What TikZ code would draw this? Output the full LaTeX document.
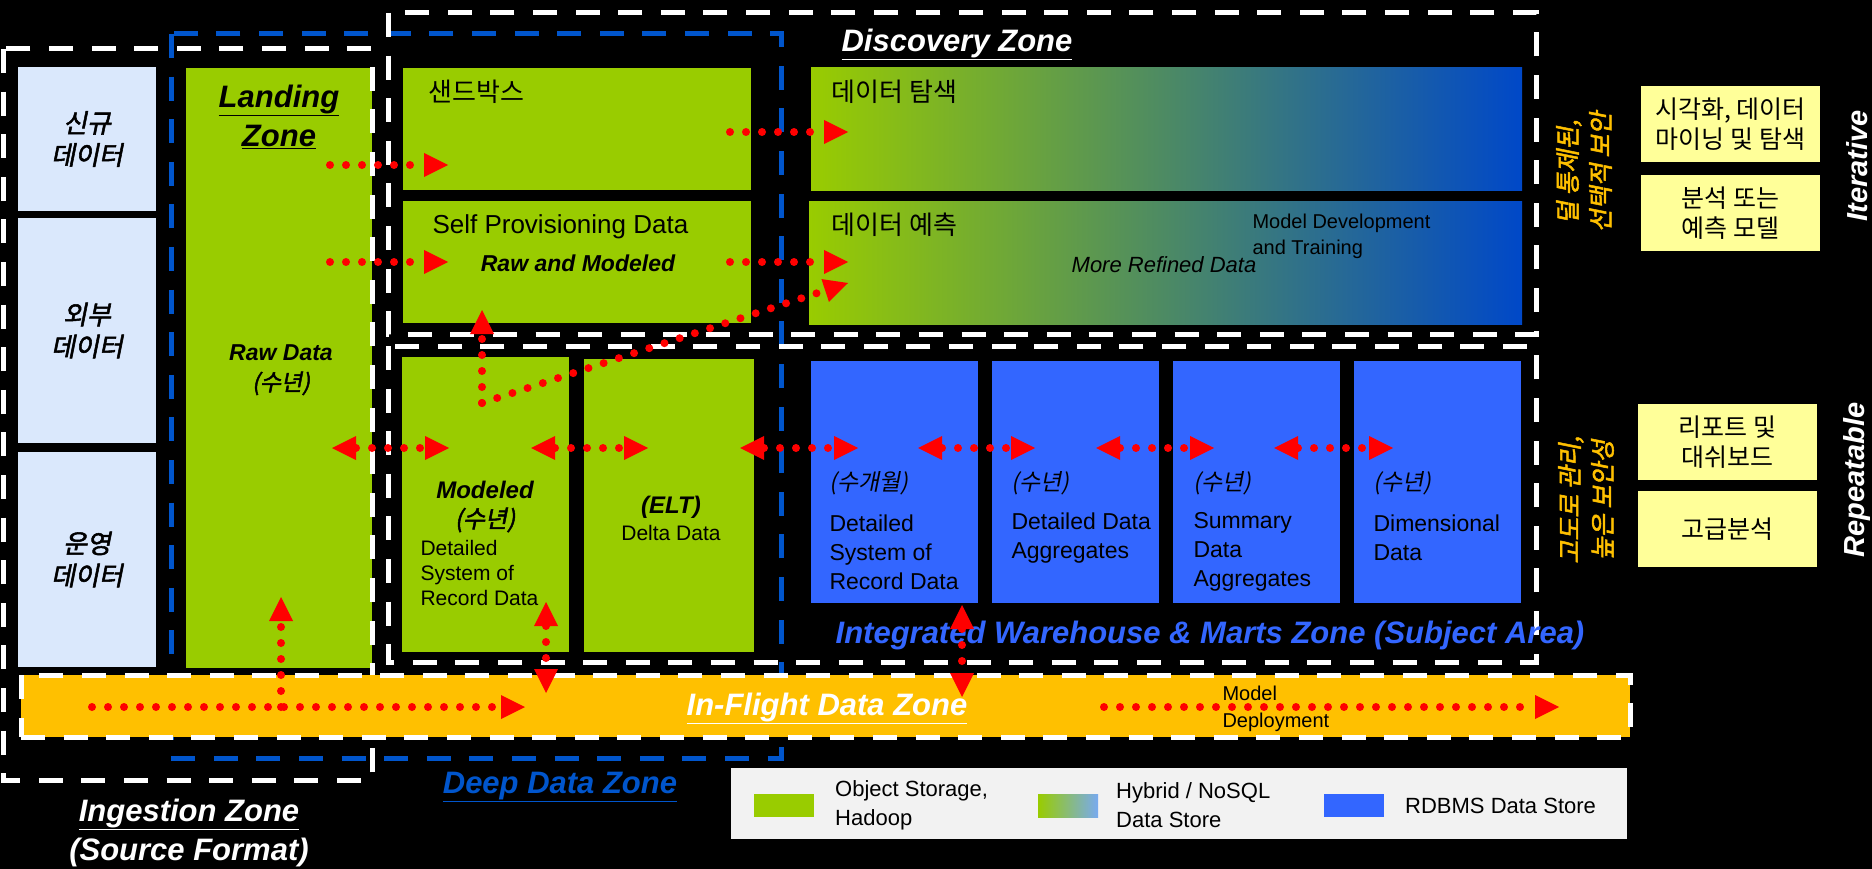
\documentclass[tikz,border=0pt]{standalone}
\usepackage{fontspec}
\setmainfont{Liberation Sans}
\newfontfamily\kr{Noto Sans CJK KR}
\newfontfamily\krsl[FakeSlant=0.2]{Noto Sans CJK KR}
\newfontfamily\krbsl[FakeSlant=0.2,FakeBold=2]{Noto Sans CJK KR}
\usetikzlibrary{arrows.meta, calc, positioning}

\definecolor{objgreen}{RGB}{153,204,0}
\definecolor{dbblue}{RGB}{51,102,255}
\definecolor{deepblue}{RGB}{0,85,204}
\definecolor{srcblue}{RGB}{218,232,252}
\definecolor{flightorange}{RGB}{255,192,0}
\definecolor{noteyellow}{RGB}{255,255,153}
\definecolor{hybridend}{RGB}{0,72,200}
\definecolor{legendgray}{RGB}{242,242,242}
\definecolor{legendblue}{RGB}{120,170,240}

\tikzset{
  cell/.style={inner sep=0pt, outer sep=0pt, anchor=north west},
  src/.style={cell, fill=srcblue, minimum width=138pt, align=center, font=\krbsl\fontsize{26}{32}\selectfont},
  note/.style={cell, fill=noteyellow, minimum width=179pt, minimum height=76pt, align=center, font=\kr\fontsize{25}{30}\selectfont},
  hybrid/.style={cell, left color=objgreen, right color=hybridend},
  zone/.style={line width=5pt, dash pattern=on 24pt off 18.6pt},
  zonelabel/.style={font=\bfseries\itshape\fontsize{31}{39}\selectfont, align=center},
  keytext/.style={font=\fontsize{22}{29}\selectfont, align=left, inner sep=0pt},
  flow/.style={red, line width=8pt, line cap=round, dash pattern=on 0pt off 16pt, ->}
}

\begin{document}
\begin{tikzpicture}[x=1pt, y=-1pt, >={Triangle[length=24pt, width=24pt, line width=0pt]}]
\useasboundingbox (0,0) rectangle (1872,869);
\fill[black] (0,0) rectangle (1872,869);

\node[src, minimum height=144pt] (newsrc) at (18,67) {신규\\데이터};
\node[src, minimum height=225pt] (extsrc) at (18,218) {외부\\데이터};
\node[src, minimum height=215pt] (opsrc) at (18,452) {운영\\데이터};

\node[cell, fill=objgreen, minimum width=186pt, minimum height=600pt] (landing) at (186,68) {};
\node[cell, fill=objgreen, minimum width=348pt, minimum height=122pt] (sandbox) at (403,68) {};
\node[cell, fill=objgreen, minimum width=348pt, minimum height=122pt] (selfprov) at (403,201) {};
\node[hybrid, minimum width=711pt, minimum height=123pt] (explore) at (811,68) {};
\node[hybrid, minimum width=713pt, minimum height=122pt] (predict) at (809,202) {};
\node[cell, fill=objgreen, minimum width=167pt, minimum height=295pt] (modeled) at (402,357) {};
\node[cell, fill=objgreen, minimum width=170pt, minimum height=293pt] (elt) at (584,359) {};
\foreach \n/\x in {rdba/811, rdbb/992, rdbc/1173, rdbd/1354}
  \node[cell, fill=dbblue, minimum width=167pt, minimum height=242pt] (\n) at (\x,361) {};

\node[note] (viz) at (1641,86) {시각화, 데이터\\마이닝 및 탐색};
\node[note] (predmodel) at (1641,175) {분석 또는\\예측 모델};
\node[note] (report) at (1638,404) {리포트 및\\대쉬보드};
\node[note] (advanced) at (1638,491) {고급분석};

\draw[zone, white] (3,49) rectangle (372,780);
\draw[zone, deepblue] (171,34) rectangle (781,758);
\draw[zone, white] (388,13) rectangle (1536,334);
\draw[zone, white] (388,346) rectangle (1536,662);
\node[cell, zone, draw=white, fill=flightorange, minimum width=1609pt, minimum height=62pt] (inflight) at (21,675) {};

\node[cell, fill=legendgray, minimum width=896pt, minimum height=71pt] (legend) at (731,768) {};
\node[cell, fill=objgreen, minimum width=60pt, minimum height=23pt] (keyobj) at (754,794) {};
\node[cell, left color=objgreen, right color=legendblue, minimum width=60pt, minimum height=23pt] (keyhyb) at (1038,794) {};
\node[cell, fill=dbblue, minimum width=60pt, minimum height=23pt] (keydb) at (1324,794) {};
\node[keytext, right=21pt of keyobj] {Object Storage,\\Hadoop};
\node[keytext, right=18pt of keyhyb] {Hybrid / NoSQL\\Data Store};
\node[keytext, right=21pt of keydb] {RDBMS Data Store};

\node[zonelabel] at (279,117) {\underline{Landing}\\\underline{Zone}};
\node[font=\bfseries\itshape\fontsize{23}{30}\selectfont, align=center] at (281,370) {Raw Data\\{\normalfont\krbsl (수년)}};

\node[font=\kr\fontsize{26}{32}\selectfont, anchor=west] at (425,92) {샌드박스};
\node[font=\fontsize{26}{32}\selectfont, anchor=west] at (429,227) {Self Provisioning Data};
\node[font=\bfseries\itshape\fontsize{23}{30}\selectfont] at (578,263) {Raw and Modeled};
\node[font=\kr\fontsize{26}{32}\selectfont, anchor=west] at (828,92) {데이터 탐색};
\node[font=\kr\fontsize{26}{32}\selectfont, anchor=west] at (828,225) {데이터 예측};
\node[font=\fontsize{20}{26}\selectfont, anchor=west, align=left] at (1249,236) {Model Development\\and Training};
\node[font=\itshape\fontsize{22}{28}\selectfont] at (1164,265) {More Refined Data};
\node[zonelabel, text=white] at (957,44) {\underline{Discovery Zone}};

\node[font=\bfseries\itshape\fontsize{24}{30}\selectfont] at (485,490) {Modeled};
\node[font=\krbsl\fontsize{24}{30}\selectfont] at (485,520) {(수년)};
\node[font=\fontsize{21}{25}\selectfont, anchor=west, align=left] at (417,573) {Detailed\\System of\\Record Data};
\node[font=\bfseries\itshape\fontsize{24}{30}\selectfont] at (671,507) {(ELT)};
\node[font=\fontsize{21}{25}\selectfont] at (671,533) {Delta Data};

\node[font=\krsl\fontsize{23}{29}\selectfont, anchor=west] at (826,483) {(수개월)};
\node[font=\fontsize{23}{29}\selectfont, anchor=west, align=left] at (826,552) {Detailed\\System of\\Record Data};
\node[font=\krsl\fontsize{23}{29}\selectfont, anchor=west] at (1008,483) {(수년)};
\node[font=\fontsize{23}{29}\selectfont, anchor=west, align=left] at (1008,538) {Detailed Data\\Aggregates};
\node[font=\krsl\fontsize{23}{29}\selectfont, anchor=west] at (1190,483) {(수년)};
\node[font=\fontsize{23}{29}\selectfont, anchor=west, align=left] at (1190,552) {Summary\\Data\\Aggregates};
\node[font=\krsl\fontsize{23}{29}\selectfont, anchor=west] at (1370,483) {(수년)};
\node[font=\fontsize{23}{29}\selectfont, anchor=west, align=left] at (1370,538) {Dimensional\\Data};
\node[font=\bfseries\itshape\fontsize{31}{37}\selectfont, text=dbblue] at (1210,635) {Integrated Warehouse \& Marts Zone (Subject Area)};

\node[zonelabel, text=white] at (189,814) {\underline{Ingestion Zone}};
\node[zonelabel, text=white] at (189,852) {(Source Format)};
\node[zonelabel, text=deepblue] at (560,787) {\underline{Deep Data Zone}};
\node[zonelabel, text=white] at (827,708) {\underline{In-Flight Data Zone}};
\node[font=\fontsize{20}{27}\selectfont, anchor=west, align=left] at (1219,709) {Model\\Deployment};

\node[rotate=90, text=flightorange, font=\krbsl\fontsize{25}{33}\selectfont, align=center] at (1584,172) {덜 통제된,\\선택적 보안};
\node[rotate=90, text=flightorange, font=\krbsl\fontsize{25}{33}\selectfont, align=center] at (1586,500) {고도로 관리,\\높은 보안성};
\node[rotate=90, text=white, font=\bfseries\itshape\fontsize{29}{35}\selectfont] at (1857,166) {Iterative};
\node[rotate=90, text=white, font=\bfseries\itshape\fontsize{29}{35}\selectfont] at (1857,480) {Repeatable};

\coordinate (l2sb) at (330,165); \coordinate (sbin) at (448,165);
\coordinate (l2sp) at (330,262); \coordinate (spin) at (448,262);
\coordinate (sb2ex) at (730,132); \coordinate (exin) at (848,132);
\coordinate (sp2pr) at (730,262); \coordinate (prin) at (848,262);
\coordinate (split) at (482,403); \coordinate (spup) at (482,310); \coordinate (prdiag) at (848,283);
\draw[flow] (l2sb) -- (sbin);
\draw[flow] (l2sp) -- (spin);
\draw[flow] (sb2ex) -- (exin);
\draw[flow] (sp2pr) -- (prin);
\draw[flow] (split) -- (spup);
\draw[flow] (split) -- (prdiag);

\foreach \i/\a/\b in {1/332/449, 2/531/648, 3/740/858, 4/918/1035, 5/1096/1214, 6/1274/1393} {
  \coordinate (row\i l) at (\a,448);
  \coordinate (row\i r) at (\b,448);
  \draw[flow, <->] (row\i l) -- (row\i r);
}

\coordinate (fl0) at (92,707); \coordinate (fl1) at (525,707);
\coordinate (dep0) at (1104,707); \coordinate (dep1) at (1559,707);
\coordinate (rawup) at (281,707); \coordinate (rawtip) at (281,597);
\coordinate (modtop) at (546,602); \coordinate (modbot) at (546,693);
\coordinate (dbtop) at (962,605); \coordinate (dbbot) at (962,697);
\draw[flow] (fl0) -- (fl1);
\draw[flow] (dep0) -- (dep1);
\draw[flow] (rawup) -- (rawtip);
\draw[flow, <->] (modtop) -- (modbot);
\draw[flow, <->] (dbtop) -- (dbbot);
\end{tikzpicture}
\end{document}
